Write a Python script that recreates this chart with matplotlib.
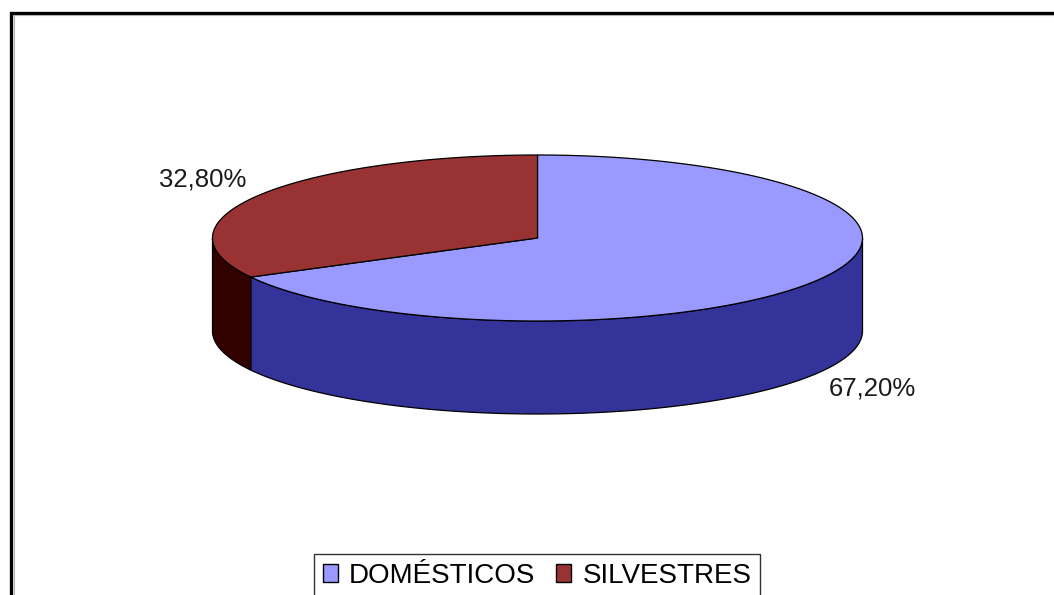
import numpy as np
import matplotlib.pyplot as plt
from matplotlib.patches import Polygon, Patch

plt.rcParams['font.family'] = ['Liberation Sans', 'DejaVu Sans']

# data
categorias = ['DOMÉSTICOS', 'SILVESTRES']
porcentajes = [67.20, 32.80]
cores_topo = ['#9999FF', '#993333']
cores_lado = ['#333399', '#330000']

# 3d pie geometry (pixels)
cx, cy = 537.5, 238.0
a, b = 325.0, 83.0
depth = 93.0


def pt(theta, dy=0.0):
    t = np.radians(theta)
    return cx + a * np.cos(t), cy - b * np.sin(t) + dy


def arc(t1, t2, dy=0.0, n=200):
    ts = np.linspace(t1, t2, n)
    return [pt(t, dy) for t in ts]


fig = plt.figure(figsize=(10.54, 5.95), dpi=100)
fig.patch.set_facecolor('white')
ax = fig.add_axes([0, 0, 1, 1])
ax.set_xlim(0, 1054)
ax.set_ylim(595, 0)
ax.axis('off')

# chart frame (only top/left visible)
ax.plot([11, 11, 1070], [610, 12.5, 12.5], color='black', lw=2.4,
        solid_joinstyle='miter', solid_capstyle='butt')
ax.plot([13.8, 13.8, 1070], [610, 15.2, 15.2], color='#b0b0b0', lw=0.8)

# slice angles, excel style: start at 12 o'clock, clockwise
angulos = []
start = 90.0
for v in porcentajes:
    t1 = start - 360.0 * v / 100.0
    angulos.append((t1, start))
    start = t1

# side walls (front half only)
for (t1, t2), col in zip(angulos, cores_lado):
    for k in (-1, 0, 1):
        lo = max(t1, 180 + 360 * k)
        hi = min(t2, 360 + 360 * k)
        if hi > lo:
            pts = arc(lo, hi) + arc(hi, lo, depth)
            ax.add_patch(Polygon(pts, closed=True, facecolor=col,
                                 edgecolor='black', lw=0.9, zorder=2))

# top faces
for (t1, t2), col in zip(angulos, cores_topo):
    pts = [(cx, cy)] + arc(t1, t2)
    ax.add_patch(Polygon(pts, closed=True, facecolor=col,
                         edgecolor='black', lw=0.9, zorder=3))

# labels outside slices
for (t1, t2), v in zip(angulos, porcentajes):
    mid = (t1 + t2) / 2.0
    dy = depth + 6 if np.sin(np.radians(mid)) < 0 else -7
    t = np.radians(mid)
    x = cx + 1.2 * a * np.cos(t)
    y = cy - 1.2 * b * np.sin(t) + dy
    txt = f"{v:.2f}%".replace('.', ',')
    ax.text(x, y, txt, fontsize=18.5, color='#1a1a1a', ha='center', va='center')

handles = [Patch(facecolor=c, edgecolor='black', lw=1.0) for c in cores_topo]
leg = fig.legend(handles, categorias, loc='upper center',
                 bbox_to_anchor=(537 / 1054, (595 - 554) / 595), ncol=2,
                 fontsize=20, frameon=True, fancybox=False, edgecolor='black',
                 handlelength=0.55, handleheight=0.62, handletextpad=0.4,
                 columnspacing=0.75, borderpad=0.32, borderaxespad=0)
leg.get_frame().set_linewidth(1.0)

fig.savefig('out.png', dpi=100)
